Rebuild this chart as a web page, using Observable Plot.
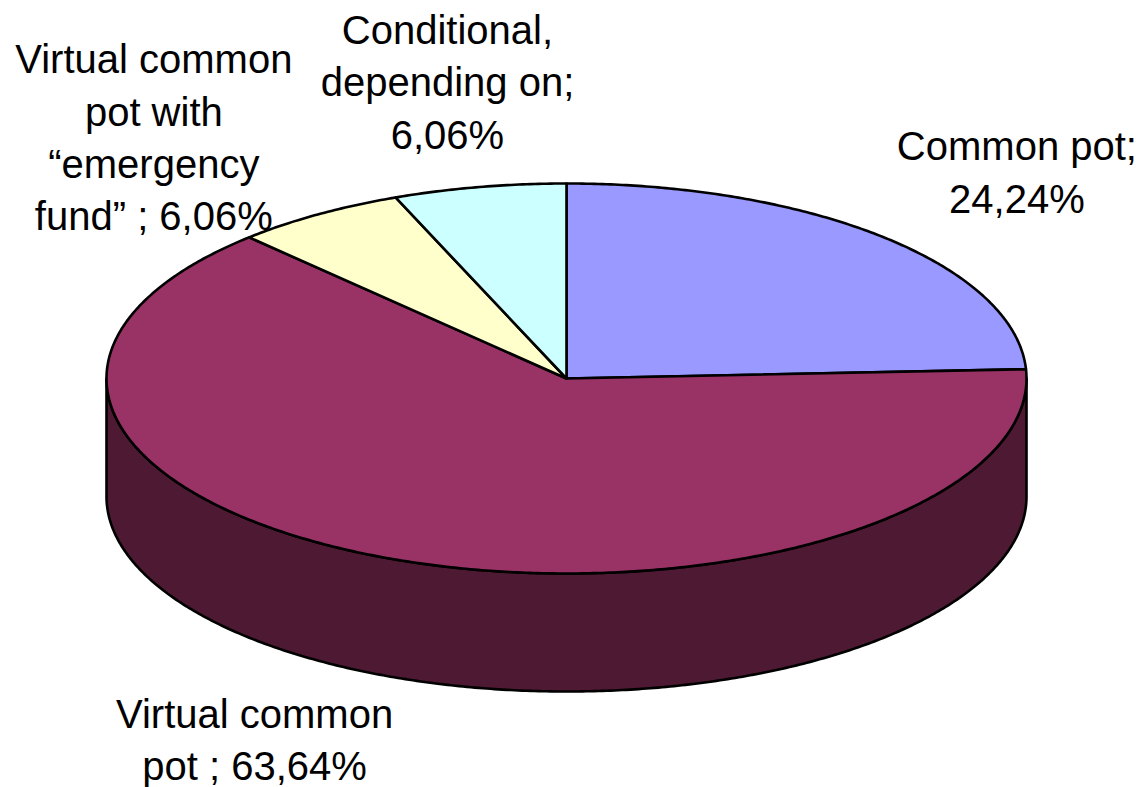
<!DOCTYPE html>
<html>
<head>
<meta charset="utf-8">
<script src="https://cdn.jsdelivr.net/npm/d3@7"></script>
<script src="https://cdn.jsdelivr.net/npm/@observablehq/plot@0.6"></script>
<style>html,body{margin:0;padding:0;background:#fff}svg{display:block}</style>
</head>
<body>
<div id="chart"></div>
<script>
// Data
const categories = ["Common pot", "Virtual common pot", "Virtual common pot with “emergency fund”", "Conditional, depending on"];
const shares = [24.24, 63.64, 6.06, 6.06];
const labels = ["Common pot;\n24,24%", "Virtual common\npot ; 63,64%", "Virtual common\npot with\n“emergency\nfund” ; 6,06%", "Conditional,\ndepending on;\n6,06%"];
const colors = ["#9999FF", "#993366", "#FFFFCC", "#CCFFFF"];
const sideColor = "#4D1933";

// Layout
const W = 1146, H = 787;
const cx = 566, cy = 378, rx = 460, ry = 195, depth = 118;
const labelOffsets = [[133, -67.5], [-141, 178], [-164, -79.5], [-32, -107.5]];

const total = d3.sum(shares);
const rim = (deg, drop = 0) => {
  const a = deg * Math.PI / 180;
  return {x: cx + rx * Math.sin(a), y: cy - ry * Math.cos(a) + drop};
};
const arc = (a0, a1, drop = 0) => {
  const n = Math.max(2, Math.ceil(Math.abs(a1 - a0) * 2));
  return d3.range(n + 1).map(i => rim(a0 + (a1 - a0) * i / n, drop));
};

let c = 0;
const slices = shares.map((v, i) => {
  const a0 = c / total * 360;
  c += v;
  const a1 = c / total * 360;
  return {a0, a1, mid: (a0 + a1) / 2, pts: [{x: cx, y: cy}, ...arc(a0, a1), {x: cx, y: cy}], label: labels[i], color: colors[i], offset: labelOffsets[i], name: categories[i]};
});

const sidePts = [...arc(90, 270), ...arc(270, 90, depth), rim(90)];
const lineOpts = {x: "x", y: "y", stroke: "#000", strokeWidth: 2.6, strokeLinejoin: "round"};

const marks = [
  Plot.line(sidePts, {...lineOpts, fill: sideColor}),
  ...slices.map(s => Plot.line(s.pts, {...lineOpts, fill: s.color})),
  ...slices.map(s => Plot.text([{...rim(s.mid), t: s.label}], {
    x: "x", y: "y", text: "t",
    dx: s.offset[0], dy: s.offset[1],
    fill: "#000", textAnchor: "middle", lineAnchor: "middle", lineHeight: 1.31
  }))
];

const chart = Plot.plot({
  width: W, height: H,
  margin: 0,
  x: {domain: [0, W], range: [0, W], axis: null},
  y: {domain: [0, H], range: [0, H], axis: null},
  style: {fontFamily: "'Liberation Sans', Arial, sans-serif", fontSize: "40px", background: "#fff"},
  marks
});
document.getElementById("chart").appendChild(chart);
</script>
</body>
</html>
